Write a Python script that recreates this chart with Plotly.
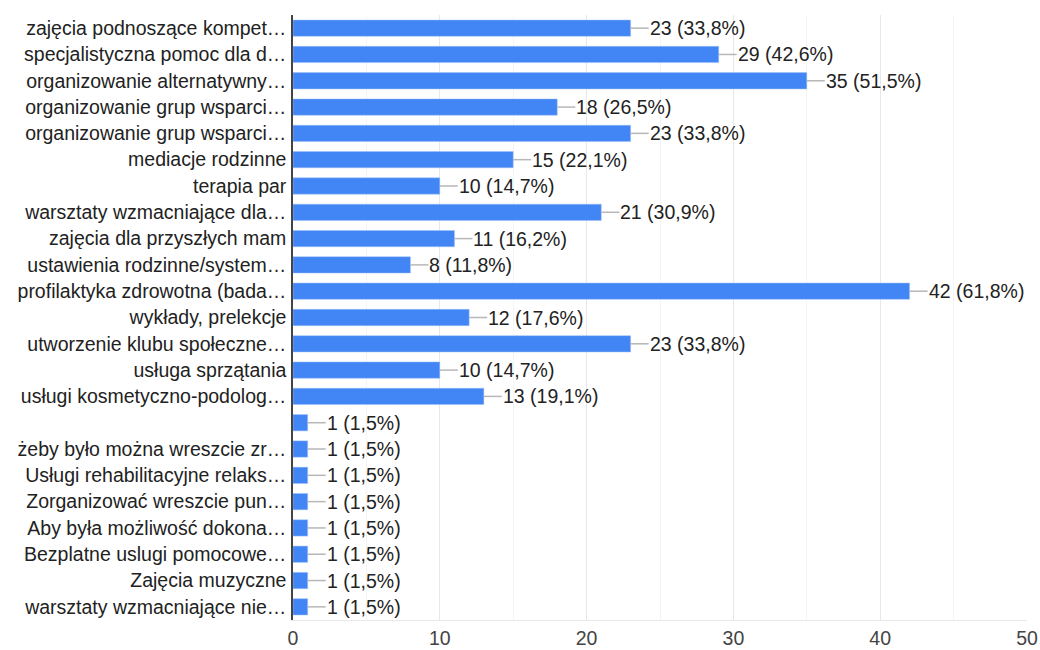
import plotly.graph_objects as go

labels = [
    "zajęcia podnoszące kompet…",
    "specjalistyczna pomoc dla d…",
    "organizowanie alternatywny…",
    "organizowanie grup wsparci…",
    "organizowanie grup wsparci…",
    "mediacje rodzinne",
    "terapia par",
    "warsztaty wzmacniające dla…",
    "zajęcia dla przyszłych mam",
    "ustawienia rodzinne/system…",
    "profilaktyka zdrowotna (bada…",
    "wykłady, prelekcje",
    "utworzenie klubu społeczne…",
    "usługa sprzątania",
    "usługi kosmetyczno-podolog…",
    "",
    "żeby było można wreszcie zr…",
    "Usługi rehabilitacyjne relaks…",
    "Zorganizować wreszcie pun…",
    "Aby była możliwość dokona…",
    "Bezplatne uslugi pomocowe…",
    "Zajęcia muzyczne",
    "warsztaty wzmacniające nie…",
]
counts = [23, 29, 35, 18, 23, 15, 10, 21, 11, 8, 42, 12, 23, 10, 13,
          1, 1, 1, 1, 1, 1, 1, 1]
percents = ["33,8", "42,6", "51,5", "26,5", "33,8", "22,1", "14,7", "30,9",
            "16,2", "11,8", "61,8", "17,6", "33,8", "14,7", "19,1",
            "1,5", "1,5", "1,5", "1,5", "1,5", "1,5", "1,5", "1,5"]
x_ticks = [0, 10, 20, 30, 40, 50]

pos = list(range(len(labels)))
FONT = "Liberation Sans, Arial, sans-serif"
FS = 19.5

fig = go.Figure()
fig.add_trace(go.Bar(
    x=counts, y=pos, orientation="h",
    marker=dict(color="#4285f4", line=dict(color="#9fc1f9", width=0.5)),
    width=0.62, hoverinfo="skip",
))

for p, c, pc in zip(pos, counts, percents):
    fig.add_shape(type="line", xref="x", yref="y", xsizemode="pixel",
                  xanchor=c, x0=0, x1=18, y0=p, y1=p,
                  line=dict(color="#b7b7b7", width=1.5), layer="above")
    fig.add_annotation(x=c, y=p, xref="x", yref="y", xanchor="left",
                       yanchor="middle", xshift=17, showarrow=False,
                       text=f"{c} ({pc}%)",
                       font=dict(family=FONT, size=FS, color="#222222"))

fig.update_layout(
    width=1040, height=650,
    margin=dict(l=293, r=13, t=15, b=30, autoexpand=False),
    paper_bgcolor="white", plot_bgcolor="white",
    showlegend=False,
    font=dict(family=FONT, size=FS, color="#222222"),
    xaxis=dict(range=[0, 50], tickvals=x_ticks, showgrid=True,
               gridcolor="#e8e8e8", gridwidth=1,
               minor=dict(dtick=5, showgrid=True, gridcolor="#f4f4f4"),
               zeroline=False, showline=True, linecolor="#e8e8e8",
               ticks="", ticklabelstandoff=1, automargin=False,
               tickfont=dict(family=FONT, size=FS, color="#444444"),
               fixedrange=True),
    yaxis=dict(tickvals=pos, ticktext=labels, range=[len(labels) - 0.5, -0.5],
               showgrid=False, zeroline=False, showline=True,
               linecolor="#444444", linewidth=1.5, ticks="",
               ticklabelstandoff=1, automargin=False,
               tickfont=dict(family=FONT, size=FS, color="#222222"),
               fixedrange=True),
)

fig.write_html("out.html", config={"displayModeBar": False},
               post_script="document.body.style.margin='0';")
